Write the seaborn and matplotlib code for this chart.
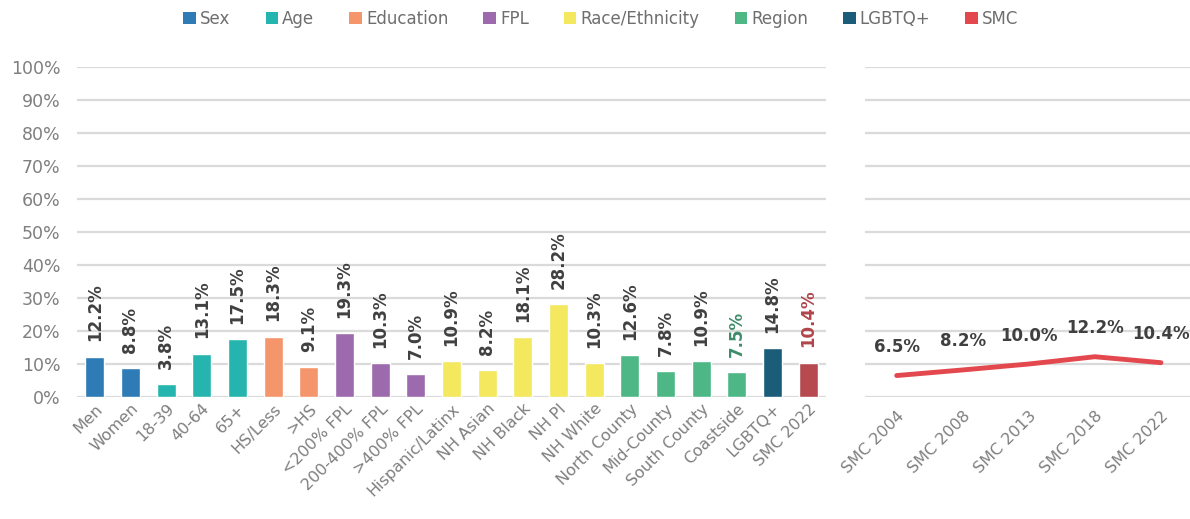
import matplotlib
matplotlib.use("Agg")
import matplotlib.pyplot as plt
from matplotlib.patches import Patch
import seaborn as sns
import pandas as pd

# Bar panel data
categories = ["Men", "Women", "18-39", "40-64", "65+", "HS/Less", ">HS",
              "<200% FPL", "200-400% FPL", ">400% FPL", "Hispanic/Latinx",
              "NH Asian", "NH Black", "NH PI", "NH White", "North County",
              "Mid-County", "South County", "Coastside", "LGBTQ+", "SMC 2022"]
values = [12.2, 8.8, 3.8, 13.1, 17.5, 18.3, 9.1, 19.3, 10.3, 7.0, 10.9,
          8.2, 18.1, 28.2, 10.3, 12.6, 7.8, 10.9, 7.5, 14.8, 10.4]
groups = ["Sex", "Sex", "Age", "Age", "Age", "Education", "Education",
          "FPL", "FPL", "FPL", "Race/Ethnicity", "Race/Ethnicity",
          "Race/Ethnicity", "Race/Ethnicity", "Race/Ethnicity", "Region",
          "Region", "Region", "Region", "LGBTQ+", "SMC"]

# Trend panel data
years = ["SMC 2004", "SMC 2008", "SMC 2013", "SMC 2018", "SMC 2022"]
trend = [6.5, 8.2, 10.0, 12.2, 10.4]

group_order = ["Sex", "Age", "Education", "FPL", "Race/Ethnicity",
               "Region", "LGBTQ+", "SMC"]
palette = {"Sex": "#2E7BB6", "Age": "#26B5AE", "Education": "#F4956B",
           "FPL": "#9C6AAD", "Race/Ethnicity": "#F4E85E", "Region": "#4DB886",
           "LGBTQ+": "#1B5D78", "SMC": "#B64A50"}
legend_colors = dict(palette, SMC="#E2484D")
label_colors = {"Coastside": "#3E8C6C", "SMC 2022": "#B0454B"}

GRID = "#DADADA"
TICK = "#7F7F7F"
LABEL = "#404040"

sns.set_theme(style="white")
plt.rcParams["font.family"] = ["DejaVu Sans"]

fig = plt.figure(figsize=(11.9, 5.19), dpi=100)
ax = fig.add_axes([77 / 1190, 122 / 519, 749 / 1190, 330 / 519])
ax2 = fig.add_axes([865 / 1190, 122 / 519, 325 / 1190, 330 / 519])

df = pd.DataFrame({"category": categories, "value": values, "group": groups})
sns.barplot(data=df, x="category", y="value", hue="group", palette=palette,
            dodge=False, width=0.53, legend=False, ax=ax, saturation=1)

ax.set_ylim(0, 100)
ax.set_xlim(-0.5, len(categories) - 0.5)
ax.set_yticks(range(0, 101, 10))
ax.set_yticklabels([f"{t}%" for t in range(0, 101, 10)])
ax.yaxis.grid(True, color=GRID, lw=1.6)
ax.set_axisbelow(True)
ax.set_xlabel("")
ax.set_ylabel("")
for s in ax.spines.values():
    s.set_visible(False)
ax.tick_params(axis="y", colors=TICK, labelsize=12.5, length=0, pad=12)
ax.tick_params(axis="x", colors=TICK, labelsize=11.5, length=0, pad=3)
for lbl in ax.get_xticklabels():
    lbl.set_rotation(45)
    lbl.set_ha("right")
    lbl.set_rotation_mode("anchor")

for i, (cat, v) in enumerate(zip(categories, values)):
    ax.annotate(f"{v:.1f}%", xy=(i, v), xytext=(0, 11),
                textcoords="offset points", rotation=90, ha="center",
                va="bottom", fontsize=12, fontweight="bold",
                color=label_colors.get(cat, LABEL))

# Trend line panel
sns.lineplot(x=list(range(len(years))), y=trend, color="#E2484D", lw=3.5,
             ax=ax2)
ax2.set_ylim(0, 100)
ax2.set_xlim(-0.48, 4.44)
ax2.set_yticks(range(0, 101, 10))
ax2.set_yticklabels([])
ax2.set_xticks(range(len(years)))
ax2.set_xticklabels(years)
ax2.yaxis.grid(True, color=GRID, lw=1.6)
ax2.xaxis.grid(False)
ax2.set_axisbelow(True)
for s in ax2.spines.values():
    s.set_visible(False)
ax2.tick_params(axis="y", length=0)
ax2.tick_params(axis="x", colors=TICK, labelsize=11.5, length=0, pad=8)
for lbl in ax2.get_xticklabels():
    lbl.set_rotation(45)
    lbl.set_ha("right")
    lbl.set_rotation_mode("anchor")
for i, v in enumerate(trend):
    ax2.annotate(f"{v:.1f}%", xy=(i, v), xytext=(0, 14),
                 textcoords="offset points", ha="center", va="bottom",
                 fontsize=12, fontweight="bold", color=LABEL)

handles = [Patch(facecolor=legend_colors[g], edgecolor="none", label=g)
           for g in group_order]
fig.legend(handles=handles, loc="upper center", bbox_to_anchor=(0.505, 1.01),
           ncol=8, frameon=False, handlelength=0.75, handleheight=0.75,
           handletextpad=0.25, columnspacing=2.1, labelcolor="#6E6E6E",
           fontsize=12)

fig.savefig("out.png", dpi=100)
